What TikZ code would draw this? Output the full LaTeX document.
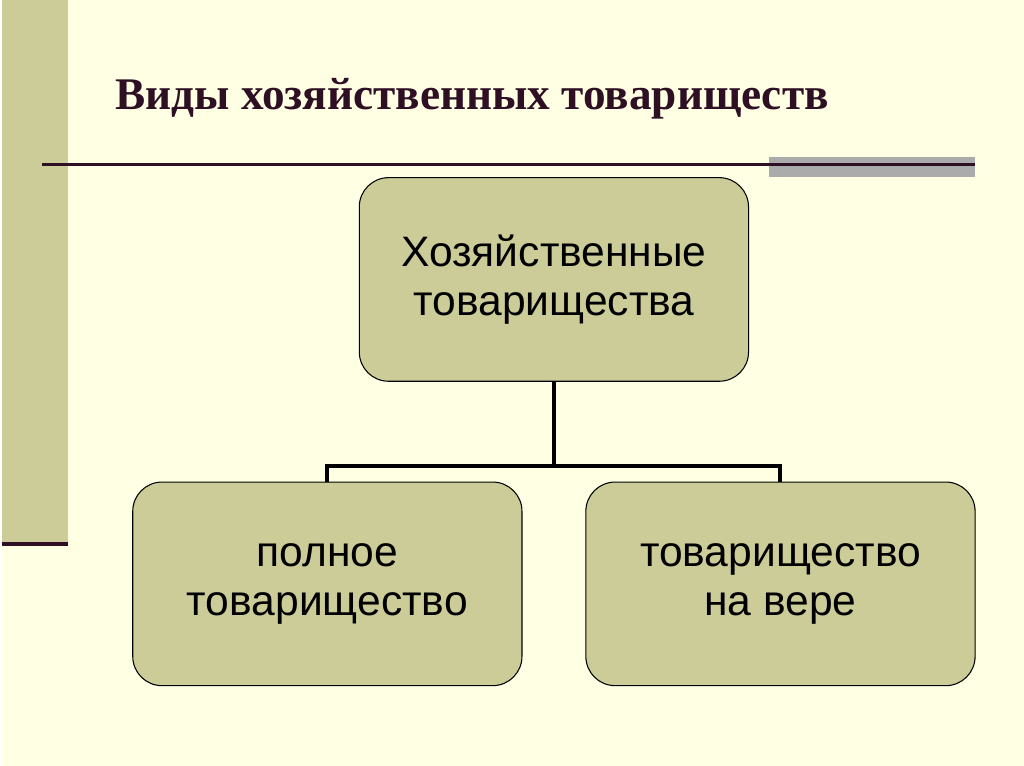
\documentclass[tikz,border=0pt]{standalone}
\usepackage{fontspec}
\setmainfont{Liberation Sans}
\newfontfamily\titlefont{Liberation Serif}
\usetikzlibrary{positioning}
\definecolor{cream}{HTML}{FFFFE3}
\definecolor{olive}{HTML}{CCCC99}
\definecolor{plum}{HTML}{2E0F24}
\definecolor{bargray}{HTML}{ABABAB}
\begin{document}
\begin{tikzpicture}%
	[x={(0.75pt,0pt)},
	y={(0pt,-0.75pt)},
	kind/.style={draw=black, thick, fill=olive, rounded corners=22pt,
		minimum width=292.5pt, minimum height=153pt, align=center,
		font=\fontsize{32}{37}\selectfont},
	link/.style={line width=3pt, color=black}]
%
\fill[cream] (0,0) rectangle (1024,767);
\fill[olive] (0,0) rectangle (66,545);
\draw[plum, line width=3pt] (0,545) -- (66,545);
\fill[bargray] (768,157) rectangle (975,177);
\draw[plum, line width=2pt] (40,165) -- (975,165);
\node[anchor=west, text=plum, font=\titlefont\bfseries\fontsize{34}{40}\selectfont]
	(title) at (109,99) {Виды хозяйственных товариществ};
%%
%% boxes
%%
\node[kind] (top) at (553,280) {Хозяйственные\\товарищества};
\node[kind] (full) at (326,585) {полное\\товарищество};
\node[kind] (faith) at (780,585) {товарищество\\на вере};
%%
%% connectors
%%
\coordinate (fork) at (553,467);
\draw[link] (top.south) -- (fork);
\draw[link] (full.north) |- (fork) -| (faith.north);
\end{tikzpicture}
\end{document}
